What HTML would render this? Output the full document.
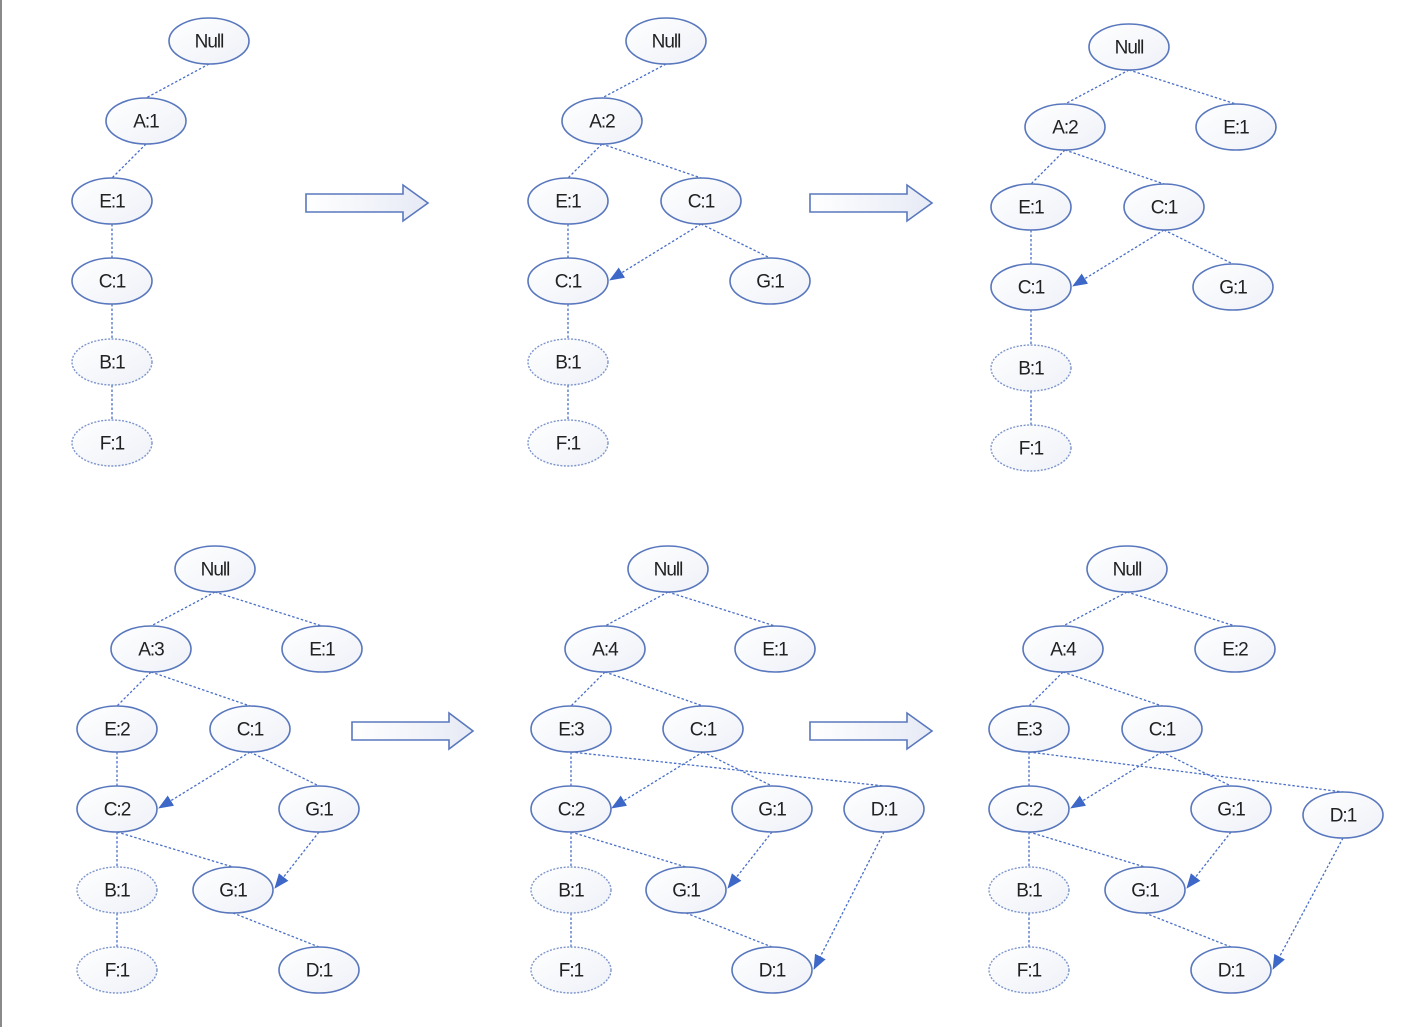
<!DOCTYPE html>
<html><head><meta charset="utf-8"><style>
html,body{margin:0;padding:0;background:#fff;}
svg{display:block;}
text{font-family:"Liberation Sans",sans-serif;font-size:19px;fill:#222;text-anchor:middle;dominant-baseline:central;letter-spacing:-1px;}
.n{fill:url(#g);stroke:#5877bd;stroke-width:1.6;}
.d{fill:url(#g);stroke:#7d95cc;stroke-width:1.4;stroke-dasharray:2 1.5;}
.e{stroke:#4a6fc6;stroke-width:1.3;stroke-dasharray:2.5 2;fill:none;}
.a{stroke:#4a6fc6;stroke-width:1.3;stroke-dasharray:2.5 2;fill:none;marker-end:url(#m);}
.blk{fill:url(#g2);stroke:#5a78bd;stroke-width:1.6;}
</style></head><body>
<svg width="1424" height="1027" viewBox="0 0 1424 1027">
<defs>
<linearGradient id="g" x1="0" y1="0" x2="1" y2="1"><stop offset="0" stop-color="#ffffff"/><stop offset="1" stop-color="#eef1f8"/></linearGradient>
<linearGradient id="g2" x1="0" y1="0" x2="1" y2="0"><stop offset="0" stop-color="#ffffff"/><stop offset="1" stop-color="#e6eaf5"/></linearGradient>
<marker id="m" markerWidth="16" markerHeight="16" refX="14" refY="6" orient="auto" markerUnits="userSpaceOnUse" viewBox="0 0 16 12"><path d="M0,0 L15,6 L0,12 z" fill="#3e68c8"/></marker>
</defs>
<rect x="0" y="0" width="2" height="1027" fill="#8a8a8a"/>

<path class="blk" d="M306,194 H403 V185 L428,203 L403,221 V212 H306 Z"/>
<path class="blk" d="M810,194 H907 V185 L932,203 L907,221 V212 H810 Z"/>
<path class="blk" d="M352,722 H449 V713 L473,731 L449,749 V740 H352 Z"/>
<path class="blk" d="M810,722 H907 V713 L932,731 L907,749 V740 H810 Z"/>

<line class="e" x1="209" y1="64" x2="146" y2="98"/>
<line class="e" x1="146" y1="144" x2="112" y2="178"/>
<line class="e" x1="112" y1="224" x2="112" y2="258"/>
<line class="e" x1="112" y1="304" x2="112" y2="339"/>
<line class="e" x1="112" y1="385" x2="112" y2="420"/>
<line class="e" x1="666" y1="64" x2="602" y2="98"/>
<line class="e" x1="602" y1="144" x2="568" y2="178"/>
<line class="e" x1="602" y1="144" x2="701" y2="178"/>
<line class="e" x1="568" y1="224" x2="568" y2="258"/>
<line class="a" x1="701" y1="224" x2="610" y2="280"/>
<line class="e" x1="701" y1="224" x2="770" y2="258"/>
<line class="e" x1="568" y1="304" x2="568" y2="339"/>
<line class="e" x1="568" y1="385" x2="568" y2="420"/>
<line class="e" x1="1129" y1="70" x2="1065" y2="104"/>
<line class="e" x1="1129" y1="70" x2="1236" y2="104"/>
<line class="e" x1="1065" y1="150" x2="1031" y2="184"/>
<line class="e" x1="1065" y1="150" x2="1164" y2="184"/>
<line class="e" x1="1031" y1="230" x2="1031" y2="264"/>
<line class="a" x1="1164" y1="230" x2="1073" y2="286"/>
<line class="e" x1="1164" y1="230" x2="1233" y2="264"/>
<line class="e" x1="1031" y1="310" x2="1031" y2="345"/>
<line class="e" x1="1031" y1="391" x2="1031" y2="425"/>
<line class="e" x1="215" y1="592" x2="151" y2="626"/>
<line class="e" x1="215" y1="592" x2="322" y2="626"/>
<line class="e" x1="151" y1="672" x2="117" y2="706"/>
<line class="e" x1="151" y1="672" x2="250" y2="706"/>
<line class="e" x1="117" y1="752" x2="117" y2="786"/>
<line class="a" x1="250" y1="752" x2="159" y2="808"/>
<line class="e" x1="250" y1="752" x2="319" y2="786"/>
<line class="e" x1="117" y1="832" x2="117" y2="867"/>
<line class="e" x1="117" y1="832" x2="233" y2="867"/>
<line class="a" x1="319" y1="832" x2="275" y2="888"/>
<line class="e" x1="117" y1="913" x2="117" y2="947"/>
<line class="e" x1="233" y1="913" x2="319" y2="947"/>
<line class="e" x1="668" y1="592" x2="605" y2="626"/>
<line class="e" x1="668" y1="592" x2="775" y2="626"/>
<line class="e" x1="605" y1="672" x2="571" y2="706"/>
<line class="e" x1="605" y1="672" x2="703" y2="706"/>
<line class="e" x1="571" y1="752" x2="571" y2="786"/>
<line class="e" x1="571" y1="752" x2="884" y2="786"/>
<line class="a" x1="703" y1="752" x2="612" y2="808"/>
<line class="e" x1="703" y1="752" x2="772" y2="786"/>
<line class="e" x1="571" y1="832" x2="571" y2="867"/>
<line class="e" x1="571" y1="832" x2="686" y2="867"/>
<line class="a" x1="772" y1="832" x2="728" y2="888"/>
<line class="a" x1="884" y1="832" x2="814" y2="969"/>
<line class="e" x1="571" y1="913" x2="571" y2="947"/>
<line class="e" x1="686" y1="913" x2="772" y2="947"/>
<line class="e" x1="1127" y1="592" x2="1063" y2="626"/>
<line class="e" x1="1127" y1="592" x2="1235" y2="626"/>
<line class="e" x1="1063" y1="672" x2="1029" y2="706"/>
<line class="e" x1="1063" y1="672" x2="1162" y2="706"/>
<line class="e" x1="1029" y1="752" x2="1029" y2="786"/>
<line class="e" x1="1029" y1="752" x2="1343" y2="792"/>
<line class="a" x1="1162" y1="752" x2="1071" y2="808"/>
<line class="e" x1="1162" y1="752" x2="1231" y2="786"/>
<line class="e" x1="1029" y1="832" x2="1029" y2="867"/>
<line class="e" x1="1029" y1="832" x2="1145" y2="867"/>
<line class="a" x1="1231" y1="832" x2="1187" y2="888"/>
<line class="a" x1="1343" y1="838" x2="1273" y2="969"/>
<line class="e" x1="1029" y1="913" x2="1029" y2="947"/>
<line class="e" x1="1145" y1="913" x2="1231" y2="947"/>

<g transform="translate(0,1)">
<ellipse class="n" cx="209" cy="40" rx="40" ry="23"/><text x="209" y="41">Null</text>
<ellipse class="n" cx="146" cy="120" rx="40" ry="23"/><text x="146" y="121">A:1</text>
<ellipse class="n" cx="112" cy="200" rx="40" ry="23"/><text x="112" y="201">E:1</text>
<ellipse class="n" cx="112" cy="280" rx="40" ry="23"/><text x="112" y="281">C:1</text>
<ellipse class="d" cx="112" cy="361" rx="40" ry="23"/><text x="112" y="362">B:1</text>
<ellipse class="d" cx="112" cy="442" rx="40" ry="23"/><text x="112" y="443">F:1</text>
<ellipse class="n" cx="666" cy="40" rx="40" ry="23"/><text x="666" y="41">Null</text>
<ellipse class="n" cx="602" cy="120" rx="40" ry="23"/><text x="602" y="121">A:2</text>
<ellipse class="n" cx="568" cy="200" rx="40" ry="23"/><text x="568" y="201">E:1</text>
<ellipse class="n" cx="701" cy="200" rx="40" ry="23"/><text x="701" y="201">C:1</text>
<ellipse class="n" cx="568" cy="280" rx="40" ry="23"/><text x="568" y="281">C:1</text>
<ellipse class="n" cx="770" cy="280" rx="40" ry="23"/><text x="770" y="281">G:1</text>
<ellipse class="d" cx="568" cy="361" rx="40" ry="23"/><text x="568" y="362">B:1</text>
<ellipse class="d" cx="568" cy="442" rx="40" ry="23"/><text x="568" y="443">F:1</text>
<ellipse class="n" cx="1129" cy="46" rx="40" ry="23"/><text x="1129" y="47">Null</text>
<ellipse class="n" cx="1065" cy="126" rx="40" ry="23"/><text x="1065" y="127">A:2</text>
<ellipse class="n" cx="1236" cy="126" rx="40" ry="23"/><text x="1236" y="127">E:1</text>
<ellipse class="n" cx="1031" cy="206" rx="40" ry="23"/><text x="1031" y="207">E:1</text>
<ellipse class="n" cx="1164" cy="206" rx="40" ry="23"/><text x="1164" y="207">C:1</text>
<ellipse class="n" cx="1031" cy="286" rx="40" ry="23"/><text x="1031" y="287">C:1</text>
<ellipse class="n" cx="1233" cy="286" rx="40" ry="23"/><text x="1233" y="287">G:1</text>
<ellipse class="d" cx="1031" cy="367" rx="40" ry="23"/><text x="1031" y="368">B:1</text>
<ellipse class="d" cx="1031" cy="447" rx="40" ry="23"/><text x="1031" y="448">F:1</text>
<ellipse class="n" cx="215" cy="568" rx="40" ry="23"/><text x="215" y="569">Null</text>
<ellipse class="n" cx="151" cy="648" rx="40" ry="23"/><text x="151" y="649">A:3</text>
<ellipse class="n" cx="322" cy="648" rx="40" ry="23"/><text x="322" y="649">E:1</text>
<ellipse class="n" cx="117" cy="728" rx="40" ry="23"/><text x="117" y="729">E:2</text>
<ellipse class="n" cx="250" cy="728" rx="40" ry="23"/><text x="250" y="729">C:1</text>
<ellipse class="n" cx="117" cy="808" rx="40" ry="23"/><text x="117" y="809">C:2</text>
<ellipse class="n" cx="319" cy="808" rx="40" ry="23"/><text x="319" y="809">G:1</text>
<ellipse class="d" cx="117" cy="889" rx="40" ry="23"/><text x="117" y="890">B:1</text>
<ellipse class="n" cx="233" cy="889" rx="40" ry="23"/><text x="233" y="890">G:1</text>
<ellipse class="d" cx="117" cy="969" rx="40" ry="23"/><text x="117" y="970">F:1</text>
<ellipse class="n" cx="319" cy="969" rx="40" ry="23"/><text x="319" y="970">D:1</text>
<ellipse class="n" cx="668" cy="568" rx="40" ry="23"/><text x="668" y="569">Null</text>
<ellipse class="n" cx="605" cy="648" rx="40" ry="23"/><text x="605" y="649">A:4</text>
<ellipse class="n" cx="775" cy="648" rx="40" ry="23"/><text x="775" y="649">E:1</text>
<ellipse class="n" cx="571" cy="728" rx="40" ry="23"/><text x="571" y="729">E:3</text>
<ellipse class="n" cx="703" cy="728" rx="40" ry="23"/><text x="703" y="729">C:1</text>
<ellipse class="n" cx="571" cy="808" rx="40" ry="23"/><text x="571" y="809">C:2</text>
<ellipse class="n" cx="772" cy="808" rx="40" ry="23"/><text x="772" y="809">G:1</text>
<ellipse class="n" cx="884" cy="808" rx="40" ry="23"/><text x="884" y="809">D:1</text>
<ellipse class="d" cx="571" cy="889" rx="40" ry="23"/><text x="571" y="890">B:1</text>
<ellipse class="n" cx="686" cy="889" rx="40" ry="23"/><text x="686" y="890">G:1</text>
<ellipse class="d" cx="571" cy="969" rx="40" ry="23"/><text x="571" y="970">F:1</text>
<ellipse class="n" cx="772" cy="969" rx="40" ry="23"/><text x="772" y="970">D:1</text>
<ellipse class="n" cx="1127" cy="568" rx="40" ry="23"/><text x="1127" y="569">Null</text>
<ellipse class="n" cx="1063" cy="648" rx="40" ry="23"/><text x="1063" y="649">A:4</text>
<ellipse class="n" cx="1235" cy="648" rx="40" ry="23"/><text x="1235" y="649">E:2</text>
<ellipse class="n" cx="1029" cy="728" rx="40" ry="23"/><text x="1029" y="729">E:3</text>
<ellipse class="n" cx="1162" cy="728" rx="40" ry="23"/><text x="1162" y="729">C:1</text>
<ellipse class="n" cx="1029" cy="808" rx="40" ry="23"/><text x="1029" y="809">C:2</text>
<ellipse class="n" cx="1231" cy="808" rx="40" ry="23"/><text x="1231" y="809">G:1</text>
<ellipse class="n" cx="1343" cy="814" rx="40" ry="23"/><text x="1343" y="815">D:1</text>
<ellipse class="d" cx="1029" cy="889" rx="40" ry="23"/><text x="1029" y="890">B:1</text>
<ellipse class="n" cx="1145" cy="889" rx="40" ry="23"/><text x="1145" y="890">G:1</text>
<ellipse class="d" cx="1029" cy="969" rx="40" ry="23"/><text x="1029" y="970">F:1</text>
<ellipse class="n" cx="1231" cy="969" rx="40" ry="23"/><text x="1231" y="970">D:1</text>
</g>
</svg>
</body></html>
